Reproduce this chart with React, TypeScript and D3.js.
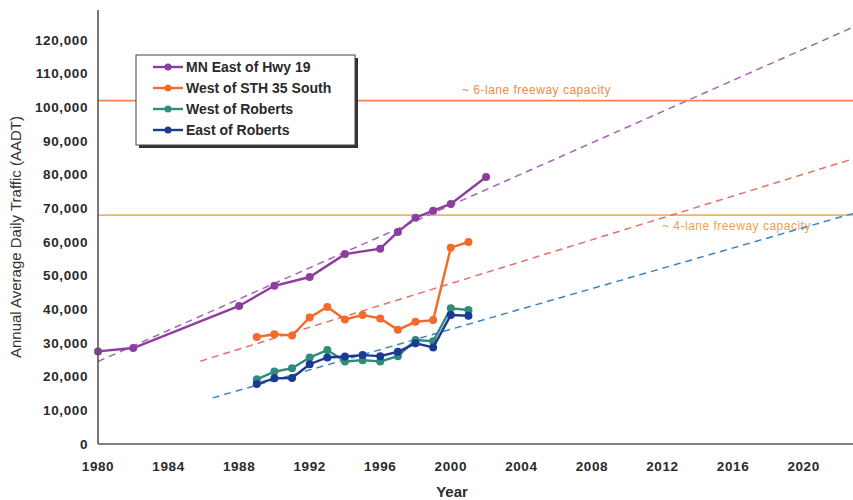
import React from "react";
import * as d3 from "d3";

const W = 853;
const H = 500;

const years1 = [1980, 1982, 1988, 1990, 1992, 1994, 1996, 1997, 1998, 1999, 2000, 2002];
const mnEastHwy19 = [27500, 28500, 41000, 47000, 49600, 56400, 58000, 63000, 67200, 69300, 71300, 79300];

const years2 = [1989, 1990, 1991, 1992, 1993, 1994, 1995, 1996, 1997, 1998, 1999, 2000, 2001];
const westSth35 = [31800, 32600, 32200, 37600, 40700, 37000, 38300, 37300, 33900, 36300, 36800, 58300, 60000];
const westRoberts = [19200, 21500, 22500, 25700, 27900, 24500, 24900, 24500, 26100, 30900, 30500, 40300, 39800];
const eastRoberts = [17800, 19500, 19600, 23700, 25700, 26000, 26400, 26100, 27400, 29900, 28700, 38300, 38100];

const trendMN = [[1980, 24500], [2022.8, 123800]];
const trendSth35 = [[1985.8, 24600], [2022.8, 84700]];
const trendRoberts = [[1986.5, 13700], [2022.8, 68500]];

const capacity6 = 102000;
const capacity4 = 68000;

const xTicks = [1980, 1984, 1988, 1992, 1996, 2000, 2004, 2008, 2012, 2016, 2020];
const yTicks = [0, 10000, 20000, 30000, 40000, 50000, 60000, 70000, 80000, 90000, 100000, 110000, 120000];

const seriesNames = ["MN East of Hwy 19", "West of STH 35 South", "West of Roberts", "East of Roberts"];
const seriesColors = ["#8c3d9e", "#f26a2c", "#2f8c78", "#1b3a92"];

const FONT = "'Liberation Sans', Arial, sans-serif";

export default function App() {
  const x = d3.scaleLinear().domain([1980, 2022.8]).range([98, 853]);
  const y = d3.scaleLinear().domain([0, 120000]).range([444, 40]);
  const line = d3
    .line<[number, number]>()
    .x((d) => x(d[0]))
    .y((d) => y(d[1]));

  const series = [
    { years: years1, values: mnEastHwy19 },
    { years: years2, values: westSth35 },
    { years: years2, values: westRoberts },
    { years: years2, values: eastRoberts },
  ];
  const trends = [
    { pts: trendMN, color: "#a565b5" },
    { pts: trendSth35, color: "#ea6e68" },
    { pts: trendRoberts, color: "#3d86c2" },
  ];
  const fmt = d3.format(",");

  return (
    <div style={{ position: "fixed", left: 0, top: 0 }}>
      <svg width={W} height={H} style={{ display: "block", background: "#fff" }}>
        {/* capacity lines */}
        <line x1={x(1980)} x2={W} y1={y(capacity6)} y2={y(capacity6)} stroke="#f2874c" strokeWidth={1.8} />
        <line x1={x(1980)} x2={W} y1={y(capacity4)} y2={y(capacity4)} stroke="#f5b25e" strokeWidth={1.8} />
        <text x={462} y={y(capacity6) - 7} fontFamily={FONT} fontSize={12} fill="#f08a4a" letterSpacing={0.5}>
          ~ 6-lane freeway capacity
        </text>
        <text x={662} y={y(capacity4) + 15} fontFamily={FONT} fontSize={12} fill="#f2a050" letterSpacing={0.5}>
          ~ 4-lane freeway capacity
        </text>

        {/* trend lines */}
        {trends.map((t, i) => (
          <path
            key={"t" + i}
            d={line(t.pts as [number, number][]) || ""}
            fill="none"
            stroke={t.color}
            strokeWidth={1.5}
            strokeDasharray="7,5"
          />
        ))}

        {/* series */}
        {series.map((s, i) => {
          const pts = s.years.map((yr, j) => [yr, s.values[j]] as [number, number]);
          return (
            <g key={"s" + i}>
              <path d={line(pts) || ""} fill="none" stroke={seriesColors[i]} strokeWidth={2.4} />
              {pts.map((p, j) => (
                <circle key={j} cx={x(p[0])} cy={y(p[1])} r={4} fill={seriesColors[i]} />
              ))}
            </g>
          );
        })}

        {/* axes */}
        <line x1={x(1980)} x2={x(1980)} y1={10} y2={y(0)} stroke="#555" strokeWidth={1.6} />
        <line x1={x(1980)} x2={W} y1={y(0)} y2={y(0)} stroke="#555" strokeWidth={1.6} />
        {yTicks.map((t) => (
          <text
            key={"y" + t}
            x={88}
            y={y(t)}
            dy="0.35em"
            textAnchor="end"
            fontFamily={FONT}
            fontSize={13.5}
            fontWeight="bold"
            fill="#2a2a2a"
            letterSpacing={0.6}
          >
            {fmt(t)}
          </text>
        ))}
        {xTicks.map((t) => (
          <text
            key={"x" + t}
            x={x(t)}
            y={471}
            textAnchor="middle"
            fontFamily={FONT}
            fontSize={13.5}
            fontWeight="bold"
            fill="#2a2a2a"
            letterSpacing={0.6}
          >
            {t}
          </text>
        ))}
        <text x={452} y={497} textAnchor="middle" fontFamily={FONT} fontSize={15} fontWeight="bold" fill="#2a2a2a">
          Year
        </text>
        <text
          transform={`translate(21,237) rotate(-90)`}
          textAnchor="middle"
          fontFamily={FONT}
          fontSize={15}
          fill="#333"
        >
          Annual Average Daily Traffic (AADT)
        </text>

        {/* legend */}
        <rect x={139} y={58} width={219} height={90} fill="#333" />
        <rect x={136} y={55} width={219} height={90} fill="#fff" stroke="#444" strokeWidth={1} />
        {seriesNames.map((n, i) => {
          const ly = 67 + i * 21;
          return (
            <g key={"l" + i}>
              <line x1={153} x2={183} y1={ly} y2={ly} stroke={seriesColors[i]} strokeWidth={2.4} />
              <circle cx={168} cy={ly} r={3.5} fill={seriesColors[i]} />
              <text x={186} y={ly} dy="0.35em" fontFamily={FONT} fontSize={14} fontWeight="bold" fill="#2a2a2a">
                {n}
              </text>
            </g>
          );
        })}
      </svg>
    </div>
  );
}
